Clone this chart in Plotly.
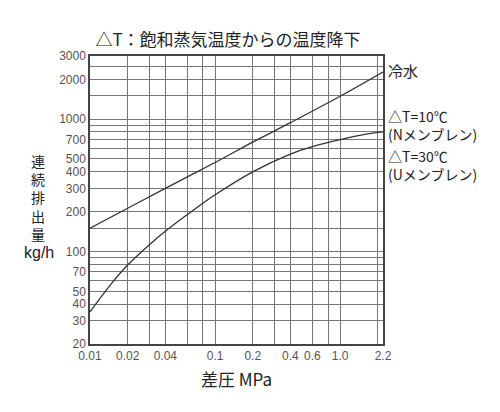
import plotly.graph_objects as go

# 差圧 (MPa) vs 連続排出量 (kg/h)
water_dp = [0.01, 0.02, 0.04, 0.1, 0.2, 0.4, 1.0, 2.2]
water_q = [150, 212, 300, 470, 670, 940, 1490, 2270]

steam_dp = [0.01, 0.015, 0.02, 0.03, 0.04, 0.06, 0.1, 0.2, 0.4, 0.6, 1.0, 1.5, 2.2]
steam_q = [35, 58, 79, 113, 142, 190, 268, 400, 545, 620, 700, 760, 800]

x_grid = [0.01, 0.02, 0.03, 0.04, 0.06, 0.08, 0.1, 0.2, 0.3, 0.4, 0.6, 0.8, 1.0, 2.0, 2.2]
x_text = ["0.01", "0.02", "", "0.04", "", "", "0.1", "0.2", "", "0.4", "0.6", "", "1.0", "", "2.2"]

y_grid = [20, 30, 40, 50, 60, 70, 80, 90, 100, 150, 200, 300, 400, 500, 600, 700, 800, 900,
          1000, 1500, 2000, 2500, 3000]
y_text = ["20", "30", "40", "50", "", "70", "", "", "100", "", "200", "300", "400", "500", "",
          "700", "", "", "1000", "", "2000", "", "3000"]

jp = "Noto Sans CJK JP"
line_col = "#333333"

fig = go.Figure()
fig.add_trace(go.Scatter(x=water_dp, y=water_q, mode="lines", line_shape="spline",
                         line=dict(color=line_col, width=1.3), name="冷水"))
fig.add_trace(go.Scatter(x=steam_dp, y=steam_q, mode="lines", line_shape="spline",
                         line=dict(color=line_col, width=1.3), name="ΔT"))

labels = [
    ("冷水", 0.951, 15),
    ("△T=10℃<br>(Nメンブレン)", 0.759, 14),
    ("△T=30℃<br>(Uメンブレン)", 0.622, 14),
]
for txt, yp, sz in labels:
    fig.add_annotation(text=txt, xref="paper", yref="paper", x=1.0, y=yp, align="left",
                       xanchor="left", yanchor="middle", xshift=3, showarrow=False,
                       font=dict(family=jp, size=sz, color="#222"))

# vertical axis title, one character per line
fig.add_annotation(text="<br>".join("連続排出量"), xref="paper", yref="paper",
                   x=-0.177, y=0.509, xanchor="center", yanchor="middle", showarrow=False,
                   font=dict(family=jp, size=14, color="#222"))
fig.add_annotation(text="kg/h", xref="paper", yref="paper", x=-0.174, y=0.316,
                   xanchor="center", yanchor="middle", showarrow=False,
                   font=dict(family="Liberation Sans", size=16, color="#222"))

fig.update_layout(
    width=500, height=412,
    margin=dict(l=82, r=125, t=48, b=76),
    paper_bgcolor="white", plot_bgcolor="white",
    showlegend=False,
    title=dict(text="△T：飽和蒸気温度からの温度降下", x=0.44, xanchor="center",
               y=0.922, yanchor="middle",
               font=dict(family=jp, size=17, color="#222")),
    xaxis=dict(
        type="log", range=[-2, 0.3424],
        tickvals=x_grid, ticktext=x_text,
        showgrid=True, gridcolor="#777", gridwidth=1,
        showline=True, linecolor="#444", linewidth=1.5, mirror=True,
        ticks="", zeroline=False,
        tickfont=dict(family="Liberation Sans Narrow, Liberation Sans", size=12, color="#555"),
        title=dict(text="差圧 MPa", font=dict(family=jp, size=17, color="#222"), standoff=12),
    ),
    yaxis=dict(
        type="log", range=[1.30103, 3.47712],
        tickvals=y_grid, ticktext=y_text,
        showgrid=True, gridcolor="#777", gridwidth=1,
        showline=True, linecolor="#444", linewidth=1.5, mirror=True,
        ticks="", zeroline=False,
        tickfont=dict(family="Liberation Sans Narrow, Liberation Sans", size=12, color="#555"),
    ),
)

fig.write_html("out.html")
